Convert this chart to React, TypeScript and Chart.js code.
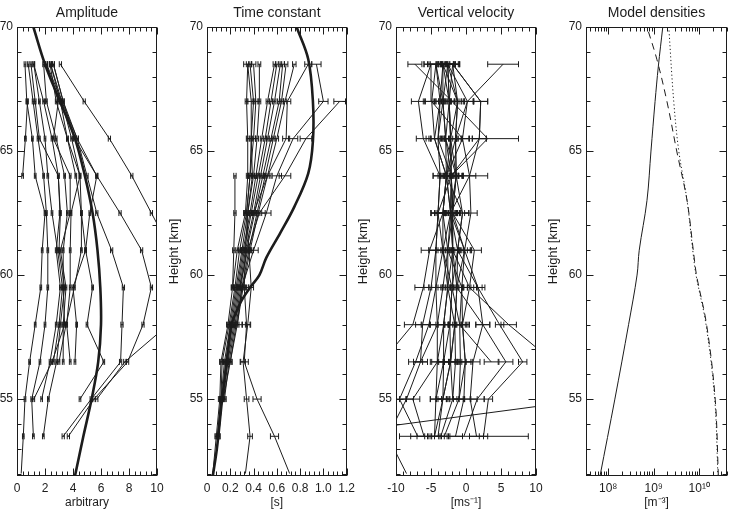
import React, { useEffect, useRef } from "react";
import { Chart, registerables } from "chart.js";
Chart.register(...registerables);

const INK = "#1c1c1c";
Chart.defaults.font.family = "'Liberation Sans', Arial, Helvetica, sans-serif";
Chart.defaults.color = INK;

// ---------- shared ----------
const levels = [52, 53.5, 55, 56.5, 58, 59.5, 61, 62.5, 64, 65.5, 67, 68.5];
// the lowest level holds extrapolated end points only (no error bar drawn there)
const noBarLevel = 52;
const heightTicks = [55, 60, 65, 70];
const heightMin = 51.9;
const heightMax = 70;

// ---------- Amplitude ----------
const ampXTicks = [0, 2, 4, 6, 8, 10];
const ampXLabels = ["0", "2", "4", "6", "8", "10"];
const ampModelHeights = [51.9, 53.5, 55, 56.5, 58, 59.5, 61, 62.5, 64, 65.5, 67, 68.5, 70];
const ampModelValues = [4.14, 4.74, 5.33, 5.8, 6.0, 5.95, 5.75, 5.4, 4.85, 4.14, 3.07, 2.0, 1.17];
const ampProfiles = [
  [0.3, 0.45, 0.57, 0.9, 1.3, 1.7, 1.8, 2.0, 1.3, 1.1, 0.7, 0.57],
  [null, 1.17, 1.05, 1.64, 2.0, 2.2, 2.2, 2.1, 1.9, 1.5, 1.15, 0.8],
  [null, null, 1.76, 2.36, 2.8, 3.1, 2.8, 3.07, 2.95, 1.6, 1.3, 1.0],
  [null, 1.88, 2.24, 2.83, 3.1, 3.4, 3.0, 3.1, 2.95, 2.5, 1.9, 1.2],
  [null, null, 1.2, 2.5, 3.4, 3.3, 3.3, 3.6, 3.4, 2.8, 2.1, 1.9],
  [null, null, null, 2.6, 3.0, 3.25, 2.9, 2.5, 2.2, 2.0, 1.6, 1.2],
  [null, null, null, 3.3, 3.3, 3.5, 3.1, 3.8, 3.8, 2.6, 2.95, 2.1],
  [null, null, null, 3.8, 3.55, 3.8, 3.8, 3.86, 4.5, 3.9, 3.2, 2.12],
  [null, null, null, 3.0, 3.5, 4.1, 4.6, 4.6, 4.2, 3.6, 2.8, 2.36],
  [null, null, null, 4.14, 4.26, 4.0, 4.9, 5.2, 5.7, 4.1, 3.3, 2.6],
  [null, null, 4.5, 6.2, 5.0, 5.4, 4.9, 4.6, 4.5, 3.6, 3.1, 2.4],
  [null, 3.3, 5.3, 7.4, 7.5, 7.6, 6.76, 5.7, 5.0, 4.3, 3.3, 2.6],
  [null, 3.67, 5.5, 7.9, 9.0, 9.6, 8.9, 7.36, 5.7, 4.3, 3.2, 2.4],
  [null, null, 5.7, 7.7, 10.8, 11.5, 11.0, 9.6, 8.2, 6.6, 4.8, 3.1],
  [null, null, null, null, null, null, null, null, 0.4, 0.6, 0.75, null],
];
const ampErrors = [0.06, 0.06, 0.06, 0.06, 0.06, 0.06, 0.06, 0.06, 0.06, 0.06, 0.06, 0.08, 0.08, 0.08, 0.06];

// ---------- Time constant ----------
const tauXTicks = [0, 0.2, 0.4, 0.6, 0.8, 1.0, 1.2];
const tauXLabels = ["0", "0.2", "0.4", "0.6", "0.8", "1.0", "1.2"];
const tauModelHeights = [51.9, 53, 55, 56.5, 58, 58.5, 59, 59.5, 60, 60.7, 61.7, 62.75, 64.1, 65.4, 67, 68.7, 70];
const tauModelValues = [0.05, 0.085, 0.13, 0.17, 0.21, 0.25, 0.3, 0.37, 0.45, 0.51, 0.63, 0.75, 0.87, 0.91, 0.91, 0.87, 0.77];
const tauProfiles = [
  [0.05, 0.08, 0.11, 0.12, 0.18, 0.22, 0.26, 0.33, 0.35, 0.35, 0.34, 0.35],
  [null, 0.09, 0.12, 0.13, 0.19, 0.24, 0.28, 0.34, 0.37, 0.38, 0.4, 0.37],
  [null, 0.09, 0.12, 0.15, 0.2, 0.25, 0.3, 0.35, 0.4, 0.43, 0.45, 0.45],
  [null, 0.1, 0.13, 0.16, 0.21, 0.26, 0.31, 0.37, 0.42, 0.47, 0.52, 0.58],
  [null, 0.1, 0.13, 0.17, 0.22, 0.27, 0.32, 0.38, 0.44, 0.5, 0.55, 0.6],
  [null, null, 0.14, 0.18, 0.23, 0.28, 0.33, 0.4, 0.46, 0.52, 0.58, 0.63],
  [null, null, 0.15, 0.19, 0.24, 0.29, 0.34, 0.41, 0.48, 0.55, 0.62, 0.65],
  [null, null, 0.14, 0.2, 0.25, 0.3, 0.36, 0.43, 0.5, 0.57, 0.64, 0.68],
  [null, null, null, 0.2, 0.26, 0.31, 0.37, 0.44, 0.52, 0.6, 0.67, 0.75],
  [0.33, 0.37, 0.34, 0.31, 0.35, 0.38, 0.36, 0.34, 0.37, 0.4, 0.42, 0.4],
  [0.71, 0.58, 0.43, 0.32, 0.34, 0.32, 0.33, 0.35, 0.39, 0.38, 0.38, 0.35],
  [null, null, null, null, null, 0.22, 0.23, 0.24, 0.24, null, null, null],
  [null, null, null, null, 0.26, 0.3, 0.4, 0.51, 0.6, 0.74, 1.0, 0.94],
  [null, null, null, null, null, 0.28, 0.35, 0.45, 0.67, 0.85, 1.14, null],
  [null, null, null, null, null, null, null, 0.4, 0.52, 0.68, 0.69, 0.87],
];
const tauErrors = [0.012, 0.012, 0.012, 0.012, 0.012, 0.012, 0.015, 0.015, 0.015, 0.02, 0.035, 0.01, 0.04, 0.05, 0.03];

// ---------- Vertical velocity ----------
const velXTicks = [-10, -5, 0, 5, 10];
const velXLabels = ["-10", "-5", "0", "5", "10"];
const velProfiles = [
  [-8.5, -11.2, -8.5, -6.5, -6.2, -5.0, -4.3, -4.0, -3.7, -6.1, -6.8, -5.0],
  [null, null, null, -12.0, -7.6, -6.1, -5.2, -3.3, -2.8, -4.5, -4.9, -4.3],
  [null, -6.9, -9.5, -7.2, -5.3, -4.3, -3.3, -2.2, -2.1, -4.0, -3.7, -3.3],
  [null, -6.0, -7.6, -4.1, -4.1, -3.3, -2.6, -1.9, -1.4, -2.9, -3.3, -2.6],
  [null, -4.5, -4.3, -3.2, -3.2, -2.6, -1.9, -2.2, -2.1, -2.2, -2.4, -1.9],
  [null, -4.0, -3.3, -2.2, -2.3, -2.0, -1.2, -0.5, -2.8, -1.5, -1.2, -3.3],
  [null, -3.6, -1.9, -1.5, -1.6, -1.3, -0.2, 0.7, 0.5, -0.5, 0.2, 5.3],
  [null, -3.1, -1.0, -0.8, -0.9, -0.6, -2.6, -3.3, -2.8, -2.2, -2.4, -2.6],
  [null, -1.5, -0.3, -0.1, -0.5, 0.5, 1.2, -1.9, -2.1, 1.9, 2.1, -1.9],
  [null, 1.5, 0.6, 1.0, 2.4, 1.7, -0.2, -1.9, -1.4, -1.5, -1.2, -2.6],
  [null, -4.5, -3.3, -2.2, -1.6, -2.6, -3.3, -4.0, -2.1, 3.1, -2.0, -7.3],
  [null, 2.5, 3.2, 8.1, 4.8, 1.7, -1.2, -2.2, -2.8, -2.9, -3.3, -3.3],
  [null, null, null, 12.5, 6.1, 0.5, -1.9, -1.9, -2.1, -2.2, -2.4, -2.6],
  [null, -22.0, 18.0, null, null, null, null, null, null, null, null, null],
  [null, null, -4.3, -4.1, -3.2, -2.6, -2.6, -2.2, -2.8, -4.5, -3.7, -4.3],
  [null, null, -3.3, -3.2, -2.3, -2.0, -1.9, -1.9, -2.1, -2.9, -2.4, -3.3],
  [null, null, -1.9, -2.2, -1.6, -1.3, -1.2, -0.5, -1.4, -2.2, -1.2, -1.9],
  [null, null, -1.0, -0.1, -0.5, -0.6, -0.2, -2.2, -1.4, -1.5, 0.2, -2.6],
  [null, null, null, 3.6, -0.9, -2.0, -3.3, -3.3, -2.8, -0.5, -4.9, -5.0],
  [null, null, null, -6.5, -4.1, -4.3, -4.3, -4.0, -3.7, -4.0, -3.3, -4.3],
  [null, -0.3, 1.6, 5.7, 2.4, -1.3, -1.9, -2.2, 0.5, 1.9, 2.1, -1.9],
];
const velErrors = [1.0, 1.2, 1.0, 1.0, 0.8, 0.9, 0.9, 0.8, 1.0, 1.0, 1.0, 0.6, 1.1, 0.5, 0.8, 0.7, 0.9, 0.8, 1.0, 1.0, 1.0];
// [profile, level, error] for the unusually wide bars
const velWideErrors = [
  [6, 11, 2.2],
  [10, 9, 4.4],
  [20, 8, 2.6],
  [20, 1, 9.2],
];

// ---------- Model densities ----------
const densXTicks = [1e8, 1e9, 1e10];
const densXLabels = ["10\u2078", "10\u2079", "10\u00b9\u2070"];
const densMin = 3.25e7;
const densMax = 4.07e10;
const densSolidHeights = [51.9, 55, 58, 60, 61, 63, 65, 67, 68.4, 70];
const densSolid = [6.6e7, 1.4e8, 2.8e8, 4.3e8, 4.8e8, 7.1e8, 8.7e8, 1.07e9, 1.26e9, 1.58e9];
const densDashedHeights = [51.9, 55, 58, 60, 61, 63, 65, 67, 68.7, 70];
const densDashed = [2.63e10, 2.24e10, 1.45e10, 8.7e9, 7.4e9, 5.4e9, 3.2e9, 1.95e9, 1.17e9, 7.1e8];
const densDottedHeights = [51.9, 55, 58, 60, 61, 63, 65, 67, 70];
const densDotted = [2.57e10, 2.19e10, 1.41e10, 8.5e9, 7.2e9, 5.4e9, 3.55e9, 2.75e9, 2.14e9];

// ---------- helpers ----------
function profileDatasets(profiles: (number | null)[][], errs: number[], wide: number[][] = []) {
  return profiles.map((vals, pi) => {
    const pts: any[] = [];
    const e: (number | null)[] = [];
    vals.forEach((v, li) => {
      if (v === null) return;
      pts.push({ x: v, y: levels[li] });
      const w = wide.find((r) => r[0] === pi && r[1] === li);
      e.push(levels[li] === noBarLevel ? null : w ? w[2] : errs[pi]);
    });
    return {
      data: pts,
      errs: e,
      showLine: true,
      borderColor: INK,
      borderWidth: 1,
      pointRadius: 0,
      fill: false,
      tension: 0,
    };
  });
}

function curve(hs: number[], vs: number[], width: number, dash: number[] = [], tension = 0.35) {
  return {
    data: hs.map((h, i) => ({ x: vs[i], y: h })),
    showLine: true,
    borderColor: INK,
    borderWidth: width,
    borderDash: dash,
    pointRadius: 0,
    fill: false,
    tension,
  };
}

const errorBarPlugin = {
  id: "errorBars",
  afterDatasetsDraw(chart: any) {
    const { ctx, chartArea: a } = chart;
    const xs = chart.scales.x;
    const ys = chart.scales.y;
    ctx.save();
    ctx.beginPath();
    ctx.rect(a.left, a.top, a.right - a.left, a.bottom - a.top);
    ctx.clip();
    ctx.strokeStyle = INK;
    ctx.lineWidth = 1;
    chart.data.datasets.forEach((ds: any) => {
      if (!ds.errs) return;
      ds.data.forEach((p: any, i: number) => {
        const e = ds.errs[i];
        if (e === null || e === undefined) return;
        const x1 = xs.getPixelForValue(p.x - e);
        const x2 = xs.getPixelForValue(p.x + e);
        const y = ys.getPixelForValue(p.y);
        ctx.beginPath();
        ctx.moveTo(x1, y);
        ctx.lineTo(x2, y);
        ctx.moveTo(x1, y - 3);
        ctx.lineTo(x1, y + 3);
        ctx.moveTo(x2, y - 3);
        ctx.lineTo(x2, y + 3);
        ctx.stroke();
      });
    });
    ctx.restore();
  },
};

const framePlugin = {
  id: "frame",
  afterDraw(chart: any, _args: any, opts: any) {
    const { ctx, chartArea: a } = chart;
    const xs = chart.scales.x;
    const ys = chart.scales.y;
    const L = Math.round(a.left) + 0.5;
    const R = Math.round(a.right) - 0.5;
    const T = Math.round(a.top) + 0.5;
    const B = Math.round(a.bottom) - 0.5;
    ctx.save();
    ctx.strokeStyle = INK;
    ctx.lineWidth = 1;
    ctx.strokeRect(L, T, R - L, B - T);
    ctx.beginPath();
    const xTick = (v: number, len: number) => {
      const px = Math.round(xs.getPixelForValue(v)) + 0.5;
      if (px < L - 1 || px > R + 1) return;
      ctx.moveTo(px, B);
      ctx.lineTo(px, B - len);
      ctx.moveTo(px, T);
      ctx.lineTo(px, T + len);
    };
    const yTick = (v: number, len: number) => {
      const py = Math.round(ys.getPixelForValue(v)) + 0.5;
      if (py < T - 1 || py > B + 1) return;
      ctx.moveTo(L, py);
      ctx.lineTo(L + len, py);
      ctx.moveTo(R, py);
      ctx.lineTo(R - len, py);
    };
    const majX = xs.ticks.map((t: any) => t.value);
    majX.forEach((v: number) => xTick(v, 7));
    if (opts.log) {
      const lo = Math.floor(Math.log10(xs.min));
      const hi = Math.ceil(Math.log10(xs.max));
      for (let n = lo; n <= hi; n++) {
        for (let k = 2; k <= 9; k++) {
          const v = k * Math.pow(10, n);
          if (v > xs.min && v < xs.max) xTick(v, 4);
        }
      }
    } else {
      const n = Math.round((xs.max - xs.min) / opts.xMinor);
      for (let k = 0; k <= n; k++) {
        const v = xs.min + k * opts.xMinor;
        if (!majX.some((m: number) => Math.abs(m - v) < 1e-6)) xTick(v, 4);
      }
    }
    const majY = ys.ticks.map((t: any) => t.value);
    majY.forEach((v: number) => yTick(v, 7));
    for (let v = Math.ceil(ys.min); v <= ys.max; v += 1) {
      if (!majY.includes(v)) yTick(v, 4);
    }
    ctx.stroke();
    ctx.restore();
  },
};

function makeConfig(p: any) {
  return {
    type: "scatter",
    data: { datasets: p.datasets },
    options: {
      responsive: false,
      animation: false,
      events: [],
      layout: { padding: { left: 0, right: p.padRight, top: 0, bottom: 0 } },
      plugins: {
        legend: { display: false },
        tooltip: { enabled: false },
        title: { display: false },
        frame: p.frame,
      },
      scales: {
        x: {
          type: p.xType,
          position: "bottom",
          min: p.xMin,
          max: p.xMax,
          afterBuildTicks: (s: any) => {
            s.ticks = p.xTicks.map((v: number) => ({ value: v }));
          },
          afterFit: (s: any) => {
            s.height = 36;
          },
          grid: { display: false, drawTicks: false },
          border: { display: false },
          ticks: {
            autoSkip: false,
            maxRotation: 0,
            minRotation: 0,
            padding: 5,
            color: INK,
            font: { size: 12 },
            callback: (_v: any, i: number) => p.xLabels[i],
          },
          title: { display: true, text: p.xTitle, color: INK, font: { size: 12 }, padding: { top: 0, bottom: 2 } },
        },
        xTop: {
          type: "linear",
          position: "top",
          min: 0,
          max: 1,
          afterFit: (s: any) => {
            s.height = 27;
          },
          grid: { display: false, drawTicks: false },
          border: { display: false },
          ticks: { display: false },
          title: { display: true, text: p.title, color: INK, font: { size: 14 }, padding: { top: 5, bottom: 0 } },
        },
        y: {
          type: "linear",
          position: "left",
          min: heightMin,
          max: heightMax,
          afterBuildTicks: (s: any) => {
            s.ticks = heightTicks.map((v) => ({ value: v }));
          },
          afterFit: (s: any) => {
            s.width = p.yWidth;
          },
          grid: { display: false, drawTicks: false },
          border: { display: false },
          ticks: { padding: 4, color: INK, font: { size: 12 }, callback: (v: any) => String(v) },
          title: {
            display: !!p.yTitle,
            text: p.yTitle || "",
            color: INK,
            font: { size: 13 },
            padding: { top: 7, bottom: 0 },
          },
        },
      },
    },
    plugins: [errorBarPlugin, framePlugin],
  };
}

const panels = [
  {
    left: 0,
    width: 170,
    yWidth: 17,
    padRight: 13,
    title: "Amplitude",
    xTitle: "arbitrary",
    yTitle: "",
    xType: "linear",
    xMin: 0,
    xMax: 10,
    xTicks: ampXTicks,
    xLabels: ampXLabels,
    frame: { xMinor: 0.4 },
    datasets: [
      ...profileDatasets(ampProfiles, ampErrors),
      curve(ampModelHeights, ampModelValues, 2.6),
    ],
  },
  {
    left: 160,
    width: 200,
    yWidth: 47,
    padRight: 13,
    title: "Time constant",
    xTitle: "[s]",
    yTitle: "Height [km]",
    xType: "linear",
    xMin: 0,
    xMax: 1.2,
    xTicks: tauXTicks,
    xLabels: tauXLabels,
    frame: { xMinor: 0.04 },
    datasets: [
      ...profileDatasets(tauProfiles, tauErrors),
      curve(tauModelHeights, tauModelValues, 2.6),
    ],
  },
  {
    left: 349,
    width: 201,
    yWidth: 47,
    padRight: 14,
    title: "Vertical velocity",
    xTitle: "[ms\u207b\u00b9]",
    yTitle: "Height [km]",
    xType: "linear",
    xMin: -10,
    xMax: 10,
    xTicks: velXTicks,
    xLabels: velXLabels,
    frame: { xMinor: 1 },
    datasets: profileDatasets(velProfiles, velErrors, velWideErrors),
  },
  {
    left: 539,
    width: 205,
    yWidth: 47,
    padRight: 17,
    title: "Model densities",
    xTitle: "[m\u207b\u00b3]",
    yTitle: "Height [km]",
    xType: "logarithmic",
    xMin: densMin,
    xMax: densMax,
    xTicks: densXTicks,
    xLabels: densXLabels,
    frame: { log: true },
    datasets: [
      curve(densSolidHeights, densSolid, 1),
      curve(densDashedHeights, densDashed, 1, [7, 5]),
      curve(densDottedHeights, densDotted, 1, [1.2, 2.5]),
    ],
  },
];

function Panel({ p }: { p: any }) {
  const ref = useRef<HTMLCanvasElement | null>(null);
  useEffect(() => {
    if (!ref.current) return;
    const chart = new Chart(ref.current, makeConfig(p) as any);
    return () => chart.destroy();
  }, [p]);
  return (
    <canvas
      ref={ref}
      width={p.width}
      height={512}
      style={{ position: "absolute", left: p.left, top: 0, width: p.width, height: 512 }}
    />
  );
}

export default function App() {
  return (
    <div
      style={{
        position: "fixed",
        left: 0,
        top: 0,
        width: 732,
        height: 512,
        background: "#ffffff",
        overflow: "hidden",
      }}
    >
      {panels.map((p, i) => (
        <Panel key={i} p={p} />
      ))}
    </div>
  );
}
